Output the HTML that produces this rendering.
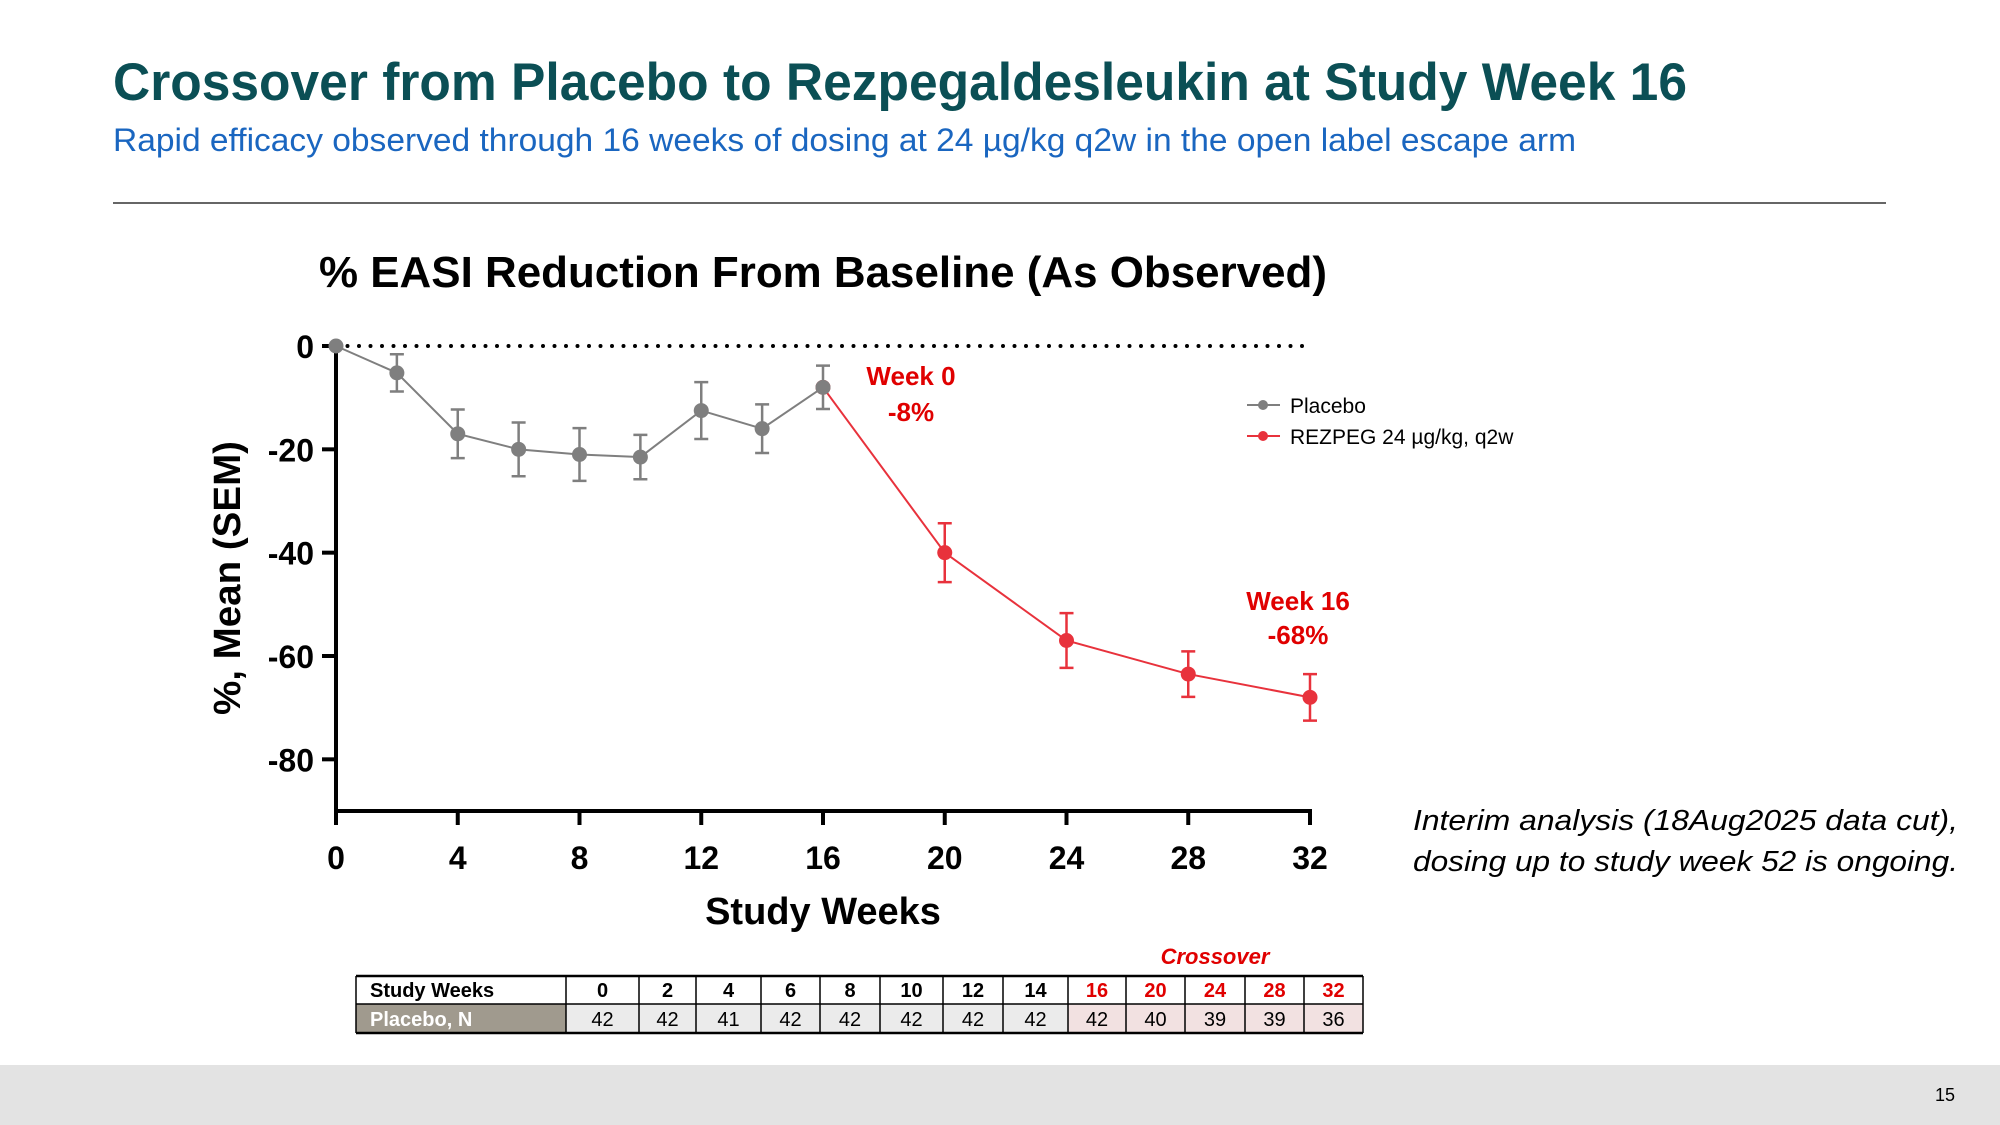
<!DOCTYPE html>
<html><head><meta charset="utf-8"><style>
html,body{margin:0;padding:0;background:#fff;}
svg{display:block;font-family:"Liberation Sans",Arial,sans-serif;}
</style></head><body>
<svg id="s" width="2000" height="1125" viewBox="0 0 2000 1125" xmlns="http://www.w3.org/2000/svg">
<text x="113" y="100" font-size="53" font-weight="bold" fill="#0b4f55" textLength="1574" lengthAdjust="spacingAndGlyphs">Crossover from Placebo to Rezpegaldesleukin at Study Week 16</text>
<text x="113" y="151" font-size="32" fill="#1a66c0" textLength="1463" lengthAdjust="spacingAndGlyphs">Rapid efficacy observed through 16 weeks of dosing at 24 µg/kg q2w in the open label escape arm</text>
<line x1="113" y1="203" x2="1886" y2="203" stroke="#333" stroke-width="1.5"/>
<text x="823" y="287" font-size="44" font-weight="bold" text-anchor="middle" fill="#000" textLength="1008" lengthAdjust="spacingAndGlyphs">% EASI Reduction From Baseline (As Observed)</text>
<g id="plot"></g>
<text transform="translate(240,578) rotate(-90)" font-size="38" font-weight="bold" text-anchor="middle" textLength="274" lengthAdjust="spacingAndGlyphs">%, Mean (SEM)</text>
<text x="823" y="924" font-size="38" font-weight="bold" text-anchor="middle">Study Weeks</text>
<g>
<g><line x1="1247" y1="405" x2="1280" y2="405" stroke="#7f7f7f" stroke-width="2"/><circle cx="1263" cy="405" r="5" fill="#7f7f7f"/><text x="1290" y="413" font-size="21">Placebo</text></g>
<g><line x1="1247" y1="436" x2="1280" y2="436" stroke="#e8323c" stroke-width="2"/><circle cx="1263" cy="436" r="5" fill="#e8323c"/><text x="1290" y="444" font-size="21">REZPEG 24 µg/kg, q2w</text></g>
</g>
<g font-weight="bold" fill="#e00000" font-size="26" text-anchor="middle">
<text x="911" y="385">Week 0</text>
<text x="911" y="421">-8%</text>
<text x="1298" y="610">Week 16</text>
<text x="1298" y="644">-68%</text>
</g>
<g font-size="29" font-style="italic" fill="#000">
<text x="1413" y="830" textLength="545" lengthAdjust="spacingAndGlyphs">Interim analysis (18Aug2025 data cut),</text>
<text x="1413" y="871" textLength="545" lengthAdjust="spacingAndGlyphs">dosing up to study week 52 is ongoing.</text>
</g>
<text x="1215" y="964" font-size="22" font-weight="bold" font-style="italic" fill="#e00000" text-anchor="middle">Crossover</text>
<g id="tbl"></g>
<rect x="0" y="1065" width="2000" height="60" fill="#e3e3e3"/>
<text x="1955" y="1101" font-size="18" text-anchor="end" fill="#000">15</text>
</svg>
<script>
const placeboWeeks=[0,2,4,6,8,10,12,14,16];
const placeboMean=[0,-5.2,-17,-20,-21,-21.5,-12.5,-16,-8];
const placeboSem=[0,3.6,4.7,5.2,5.1,4.3,5.5,4.7,4.2];
const rezWeeks=[16,20,24,28,32];
const rezMean=[-8,-40,-57,-63.5,-68];
const rezSem=[0,5.7,5.3,4.4,4.5];
const yTicks=[0,-20,-40,-60,-80];
const xTicks=[0,4,8,12,16,20,24,28,32];
const tableWeeks=["0","2","4","6","8","10","12","14","16","20","24","28","32"];
const tableN=["42","42","41","42","42","42","42","42","42","40","39","39","36"];
const crossoverFrom=8;

const NS="http://www.w3.org/2000/svg";
const X=w=>336+w*(974/32);
const Y=v=>346+(-v)*(465/90);
function mk(tag,attrs,parent){const e=document.createElementNS(NS,tag);for(const k in attrs)e.setAttribute(k,attrs[k]);parent.appendChild(e);return e;}
const g=document.getElementById('plot');
// dotted zero line
let zl=mk('line',{x1:X(0),y1:Y(0),x2:X(32),y2:Y(0),stroke:'#000','stroke-width':4,'stroke-dasharray':'0 11.5','stroke-linecap':'round'},g);


// axes
let ya=mk('line',{x1:336,y1:Y(0)-4,x2:336,y2:Y(-90),stroke:'#000','stroke-width':4},g);


let xa=mk('line',{x1:334,y1:Y(-90),x2:X(32)+2,y2:Y(-90),stroke:'#000','stroke-width':4},g);


yTicks.forEach(v=>{
  let t=mk('line',{x1:322,y1:Y(v),x2:336,y2:Y(v),stroke:'#000','stroke-width':4},g);
  
  
  let l=mk('text',{x:314,y:Y(v)+12,'font-size':32,'font-weight':'bold','text-anchor':'end'},g);
  l.textContent=v;
  
  
});
xTicks.forEach(w=>{
  let t=mk('line',{x1:X(w),y1:Y(-90),x2:X(w),y2:Y(-90)+14,stroke:'#000','stroke-width':4},g);
  
  
  let l=mk('text',{x:X(w),y:869,'font-size':32,'font-weight':'bold','text-anchor':'middle'},g);
  l.textContent=w;
  
  
});
function series(weeks,mean,sem,color,name){
  const sg=mk('g',{},g);
  
  
  let p=mk('polyline',{points:weeks.map((w,i)=>X(w)+','+Y(mean[i])).join(' '),fill:'none',stroke:color,'stroke-width':2},sg);
  
  
  weeks.forEach((w,i)=>{
    if(sem[i]>0){
      const x=X(w),y1=Y(mean[i]+sem[i]),y2=Y(mean[i]-sem[i]);
      let e=mk('path',{d:`M${x},${y1}V${y2}M${x-7},${y1}H${x+7}M${x-7},${y2}H${x+7}`,stroke:color,'stroke-width':2.5,fill:'none'},sg);
      
      
    }
    let c=mk('circle',{cx:X(w),cy:Y(mean[i]),r:7.5,fill:color},sg);
    
    
  });
}
series(rezWeeks,rezMean,rezSem,'#e8323c','rezpeg');
series(placeboWeeks,placeboMean,placeboSem,'#7f7f7f','placebo');

// table
const tb=document.getElementById('tbl');
const cols=[356,566,639,696,761,820,880,943,1003,1068,1126,1185,1245,1304,1363];
const r0=976,r1=1004,r2=1033;
let hc=mk('rect',{x:356,y:r0,width:210,height:r1-r0,fill:'#fff'},tb);


let ht=mk('text',{x:370,y:r1-7,'font-size':20,'font-weight':'bold'},tb);
ht.textContent='Study Weeks';


let pc=mk('rect',{x:356,y:r1,width:210,height:r2-r1,fill:'#a09a8e'},tb);


let pt=mk('text',{x:370,y:r2-7,'font-size':20,'font-weight':'bold',fill:'#fff'},tb);
pt.textContent='Placebo, N';


tableWeeks.forEach((wk,i)=>{
  const x0=cols[i+1],x1=cols[i+2],cx=(x0+x1)/2,red=i>=crossoverFrom;
  let c=mk('rect',{x:x0,y:r1,width:x1-x0,height:r2-r1,fill:red?'#f2e1e1':'#ebebeb'},tb);
  
  
  let h=mk('text',{x:cx,y:r1-7,'font-size':20,'font-weight':'bold','text-anchor':'middle',fill:red?'#e00000':'#000'},tb);
  h.textContent=wk;
  
  
  let n=mk('text',{x:cx,y:r2-7,'font-size':20,'text-anchor':'middle'},tb);
  n.textContent=tableN[i];
  
  
});
cols.forEach(x=>{let l=mk('line',{x1:x,y1:r0,x2:x,y2:r2,stroke:'#000','stroke-width':1.5},tb);});
[r0,r1,r2].forEach(y=>{let l=mk('line',{x1:356,y1:y,x2:1363,y2:y,stroke:'#000','stroke-width':y===r1?1.5:2.5},tb);});
</script>
</body></html>
